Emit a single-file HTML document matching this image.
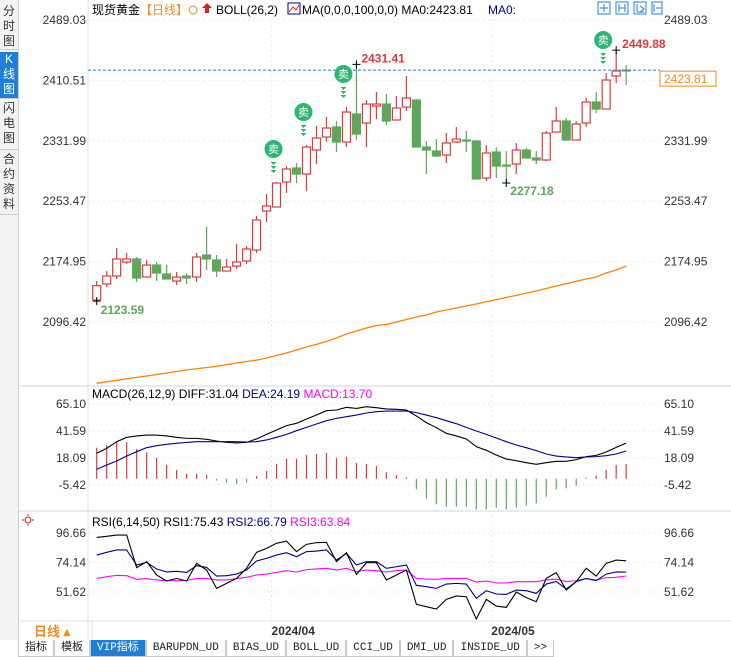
<!DOCTYPE html>
<html><head><meta charset="utf-8"><style>
body{margin:0;width:731px;height:657px;overflow:hidden;background:#fff;font-family:"Liberation Sans","Noto Sans CJK SC",sans-serif;position:relative}
.side{position:absolute;left:0;top:0;width:18px;height:640px;background:#f3f3f3;border-right:1px solid #d0d0d0}
.side div{position:absolute;left:0;width:18px;font-size:12px;line-height:15px;text-align:center;color:#333;border-bottom:1px solid #ccc}
.tabs{position:absolute;left:18px;top:640px;height:17px;display:flex;font-family:"Liberation Mono","Noto Sans CJK SC",monospace;font-size:11px}
.tabs div{border:1px solid #c8c8c8;border-top:none;padding:0 6px;line-height:16px;color:#222;background:#fff}
svg{position:absolute;left:0;top:0}
</style></head><body>
<div class="side">
 <div style="top:4px;height:45px">分<br>时<br>图</div>
 <div style="top:52px;height:46px;background:#1f7fd6;color:#fff">K<br>线<br>图</div>
 <div style="top:101px;height:48px">闪<br>电<br>图</div>
 <div style="top:152px;height:62px">合<br>约<br>资<br>料</div>
</div>
<div class="tabs">
 <div>指标</div>
 <div>模板</div>
 <div style="background:#1f7fd6;color:#fff">VIP指标</div>
 <div>BARUPDN_UD</div>
 <div>BIAS_UD</div>
 <div>BOLL_UD</div>
 <div>CCI_UD</div>
 <div>DMI_UD</div>
 <div>INSIDE_UD</div>
 <div>&gt;&gt;</div>
</div>
<svg id="c" width="731" height="640"></svg>
<script>
const opens=[2125.0,2145.8,2156.2,2174.4,2178.3,2154.9,2170.5,2158.8,2149.7,2156.2,2154.9,2183.5,2177.0,2162.7,2169.2,2175.7,2190.0,2240.7,2245.9,2278.4,2296.6,2288.8,2320.0,2336.9,2349.9,2330.4,2366.8,2355.1,2377.2,2379.8,2359.0,2375.9,2385.0,2323.9,2318.7,2313.5,2330.4,2333.0,2331.7,2283.6,2317.4,2300.5,2301.8,2320.0,2309.6,2307.0,2343.4,2357.7,2333.0,2355.1,2382.4,2373.3,2416.2,2424.0];
const highs=[2149.7,2162.7,2192.6,2186.1,2180.9,2177.0,2174.4,2170.5,2161.4,2160.1,2186.1,2219.9,2183.5,2178.3,2197.8,2195.2,2234.2,2262.8,2278.4,2299.2,2303.1,2326.5,2351.2,2362.9,2357.7,2375.9,2431.41,2385.0,2395.4,2392.8,2390.2,2416.2,2386.3,2331.7,2334.3,2342.1,2349.9,2344.7,2333.0,2326.5,2323.9,2318.7,2329.1,2322.6,2318.7,2344.7,2376.0,2361.6,2357.7,2387.6,2395.4,2420.1,2449.88,2430.5];
const lows=[2123.59,2141.9,2152.3,2171.8,2148.4,2153.6,2149.7,2152.3,2144.5,2145.8,2148.4,2164.0,2154.9,2162.7,2165.3,2171.8,2186.1,2226.4,2245.9,2264.1,2277.1,2266.7,2301.8,2330.4,2317.4,2323.9,2333.0,2323.9,2360.3,2352.5,2359.0,2370.7,2323.9,2288.8,2310.9,2303.1,2329.1,2317.4,2282.3,2279.7,2283.6,2277.18,2288.8,2309.6,2301.8,2305.7,2343.4,2331.7,2333.0,2350.0,2368.1,2373.3,2407.1,2404.5];
const closes=[2143.6,2156.2,2178.3,2178.3,2153.6,2170.5,2160.1,2152.3,2154.9,2153.6,2180.9,2178.3,2162.7,2167.9,2174.4,2191.3,2229.0,2247.2,2277.1,2295.3,2288.8,2323.9,2335.6,2348.6,2330.4,2369.4,2340.8,2379.8,2379.8,2357.7,2374.6,2387.6,2323.9,2320.0,2312.2,2329.1,2334.3,2331.7,2282.3,2316.1,2299.2,2299.2,2320.0,2309.6,2307.0,2342.1,2357.7,2333.0,2353.8,2382.4,2373.3,2411.0,2422.7,2423.81];
const ma100=[2016.7,2018.7,2020.6,2022.6,2024.4,2026.2,2028.2,2030.1,2032.1,2034.0,2035.6,2037.3,2038.8,2041.0,2043.1,2045.1,2046.8,2049.6,2052.9,2056.1,2060.0,2063.9,2067.4,2071.1,2075.6,2080.8,2084.7,2088.6,2091.9,2093.2,2096.4,2099.7,2102.9,2105.5,2109.4,2112.0,2114.6,2117.2,2119.8,2122.8,2125.5,2128.3,2131.0,2133.9,2136.7,2140.0,2143.2,2146.2,2149.3,2152.3,2154.9,2160.1,2164.0,2169.2];
const macdHist=[27.1,29.4,31.8,32.0,25.9,23.1,18.4,12.0,7.7,4.2,4.2,3.3,-1.5,-3.4,-4.5,-3.4,2.4,6.8,12.9,17.5,17.5,20.7,21.6,22.5,18.4,19.2,13.8,12.9,11.1,5.7,3.3,1.3,-9.1,-17.0,-22.2,-24.3,-24.3,-24.3,-26.6,-26.6,-25.1,-26.6,-25.1,-23.4,-21.4,-15.6,-9.1,-8.3,-6.0,1.0,2.7,7.7,12.0,12.9];
const diff=[22.2,26.5,32.3,36.1,37.3,38.1,38.1,37.3,36.1,35.2,35.2,34.4,32.9,31.7,31.2,31.7,34.7,38.7,42.5,46.3,48.3,52.1,55.5,59.3,59.9,62.2,61.3,62.8,61.9,60.8,60.5,59.9,54.7,48.9,44.5,39.6,37.3,34.7,28.0,24.8,20.7,17.2,15.8,14.0,12.6,14.0,15.2,15.2,16.7,19.3,20.4,23.3,27.4,31.04];
const dea=[8.2,12.0,15.5,19.8,23.6,27.1,28.8,30.0,30.9,31.7,32.3,32.3,32.3,32.3,32.3,32.0,32.3,33.8,36.1,38.7,41.9,44.8,47.7,50.6,52.6,54.1,55.5,57.3,58.4,59.0,59.0,59.0,57.6,55.5,53.2,50.6,48.0,44.8,41.6,38.7,35.5,32.3,29.4,27.1,24.5,21.6,19.8,19.0,18.4,19.0,19.3,20.1,21.6,24.19];
const rsi1=[93.3,94.1,95.1,95.1,70.2,74.8,64.6,60.0,62.0,60.0,73.5,68.4,54.4,58.2,62.0,69.7,81.9,84.9,88.8,90.5,82.4,88.0,89.3,89.5,74.8,81.6,65.1,74.0,74.0,60.8,64.6,68.4,42.2,40.4,38.6,46.0,48.6,48.0,31.0,46.0,40.9,39.9,51.6,47.3,44.2,62.0,66.4,53.1,59.5,69.7,63.8,73.5,76.0,75.43];
const rsi2=[79.8,81.9,83.7,83.7,72.2,74.3,69.2,66.9,67.4,66.6,71.7,70.4,63.8,64.1,65.3,68.4,75.3,77.3,79.8,81.6,78.6,82.4,82.9,83.7,76.0,81.1,72.2,74.8,74.8,69.7,70.9,72.2,56.7,55.7,54.4,57.7,58.2,57.7,46.8,52.6,50.1,49.8,53.1,52.6,50.6,57.7,59.7,53.9,59.5,62.0,60.3,65.3,66.9,66.79];
const rsi3=[62.0,63.3,64.3,64.1,61.3,61.8,60.8,60.3,60.3,60.5,62.0,62.0,60.8,60.8,61.8,62.8,64.6,65.3,66.6,67.9,66.9,68.7,69.2,69.7,68.4,69.7,67.1,68.4,67.9,66.9,67.9,68.4,62.0,61.5,61.3,62.0,62.0,62.0,59.2,60.0,58.5,58.5,59.5,59.5,59.5,60.8,61.5,59.5,60.3,61.8,60.8,62.5,62.8,63.84];
const priceTicks=["2489.03","2410.51","2331.99","2253.47","2174.95","2096.42"];
const macdTicks=["65.10","41.59","18.09","-5.42"];
const rsiTicks=["96.66","74.14","51.62"];
const dateLabels=["2024/04","2024/05"];
const dateIdx=[17.5,39.5];
const sellIdx=[18,21,25,51];

const NS="http://www.w3.org/2000/svg";
const svg=document.getElementById('c');
function el(t,a,txt){const e=document.createElementNS(NS,t);for(const k in a)e.setAttribute(k,a[k]);if(txt!==undefined)e.textContent=txt;svg.appendChild(e);return e;}
const X=i=>96.7+i*9.99;
const yP=p=>20+(2489.03-p)*302/392.61;
const yM=v=>478.8-v*81/70.52;
const yR=v=>533+(96.66-v)*59/45.04;
const L=88,R=660;
let e;
e=el('line',{x1:L,y1:0,x2:L,y2:640,stroke:'#dde3ea'});
e=el('line',{x1:18,y1:386,x2:731,y2:386,stroke:'#cfd6de'});
e=el('line',{x1:18,y1:511,x2:731,y2:511,stroke:'#cfd6de'});
e=el('line',{x1:18,y1:621,x2:731,y2:621,stroke:'#e3e3e3'});
e=el('line',{x1:92,y1:621,x2:92,y2:640,stroke:'#ddd'});
function ticks(arr,fy,nm){arr.forEach(t=>{const y=fy(parseFloat(t));
 let g=el('line',{x1:L,y1:y,x2:R,y2:y,stroke:'#e6e9ee','stroke-dasharray':'2,3'});
 let a=el('text',{x:86,y:y+4,'font-size':12,'text-anchor':'end',fill:'#333'},t);
 let b=el('text',{x:664,y:y+4,'font-size':12,fill:'#333'},t);});}
ticks(priceTicks,yP,'price');ticks(macdTicks,yM,'macd');ticks(rsiTicks,yR,'rsi');
dateLabels.forEach((d,k)=>{const x=X(dateIdx[k]);
 let g=el('line',{x1:x,y1:20,x2:x,y2:640,stroke:'#e6e9ee','stroke-dasharray':'2,3'});
 let t=el('text',{x:x,y:635,'font-size':12,'font-weight':'bold',fill:'#333'},d);});
e=el('polyline',{points:ma100.map((v,i)=>X(i)+','+yP(v)).join(' '),fill:'none',stroke:'#ff8000','stroke-width':1.3});

const RED='#e0393e',GRN='#5ea65a';
opens.forEach((o,i)=>{const c=closes[i],x=X(i),up=c>=o,col=up?RED:GRN;
 const top=yP(Math.max(o,c)),bot=yP(Math.min(o,c));
 let w=el('line',{x1:x,y1:yP(highs[i]),x2:x,y2:yP(lows[i]),stroke:col,'stroke-width':1.2});
 
 let b=el('rect',{x:x-4,y:top,width:8,height:Math.max(1,bot-top),fill:up?'#fff':GRN,stroke:col,'stroke-width':1.2});
 });
const last=closes[closes.length-1];
e=el('line',{x1:L,y1:yP(last),x2:R,y2:yP(last),stroke:'#1e88e5','stroke-dasharray':'3,2'});
e=el('rect',{x:660,y:yP(last)+1,width:56,height:15,fill:'#fff',stroke:'#f08a24'});
e=el('text',{x:664,y:yP(last)+13,'font-size':12,fill:'#f08a24'},last.toFixed(2));
function mark(i,v,txt,col,dx,dy){const x=X(i),y=yP(v);
 let m=el('path',{d:`M${x-4},${y}H${x+4}M${x},${y-4}V${y+4}`,stroke:'#000'});
 let t=el('text',{x:x+dx,y:y+dy,'font-size':12,'font-weight':'bold',fill:col},txt);}
mark(26,highs[26],'2431.41',RED,5,-2);mark(52,highs[52],'2449.88',RED,6,-2);
mark(41,lows[41],'2277.18',GRN,4,12);mark(0,lows[0],'2123.59',GRN,4,13);
sellIdx.forEach(i=>{const x=X(i)-3,y=yP(highs[i])-33;
 let c=el('circle',{cx:x,cy:y,r:9,fill:'#2bb673'});
 let t=el('text',{x:x,y:y+4,'font-size':11,'text-anchor':'middle',fill:'#fff'},'卖');
 for(let k=0;k<3;k++){let p=el('path',{d:`M${x-3},${y+13+k*4}L${x+3},${y+13+k*4}L${x},${y+16+k*4}Z`,fill:'#2bb673'});}});
macdHist.forEach((v,i)=>{let b=el('line',{x1:X(i),y1:yM(0),x2:X(i),y2:yM(v),stroke:v>=0?RED:GRN,'stroke-width':1.2});
 });
e=el('polyline',{points:diff.map((v,i)=>X(i)+','+yM(v)).join(' '),fill:'none',stroke:'#000','stroke-width':1.1});
e=el('polyline',{points:dea.map((v,i)=>X(i)+','+yM(v)).join(' '),fill:'none',stroke:'#00008b','stroke-width':1.1});
[[rsi3,'#ff00ff','rsi3-line'],[rsi2,'#00008b','rsi2-line'],[rsi1,'#000','rsi1-line']].forEach(([a,c,n])=>{
 let p=el('polyline',{points:a.map((v,i)=>X(i)+','+yR(v)).join(' '),fill:'none',stroke:c,'stroke-width':1.1});
 });
</script>
<svg width="731" height="640" style="pointer-events:none">
 <g font-size="12" font-family="Liberation Sans,Noto Sans CJK SC,sans-serif">
  <text x="92" y="14" fill="#000">现货黄金</text>
  <text x="140" y="14" fill="#f08a24">【日线】</text>
  <circle cx="193" cy="10" r="4" fill="none" stroke="#f08a24"/>
  <path d="M207,3 L212,8 H209 V13 H205 V8 H202Z" fill="#e02020"/>
  <text x="216" y="14" fill="#000">BOLL(26,2)</text>
  <rect x="288" y="3" width="12" height="11" fill="#fff" stroke="#00008b"/>
  <path d="M289,12 L293,7 L296,10 L299,5" stroke="#e02020" fill="none"/>
  <text x="302" y="14" fill="#000">MA(0,0,0,100,0,0) MA0:2423.81</text>
  <text x="488" y="14" fill="#00008b">MA0:</text>
  <g stroke="#1f7fd6" fill="none">
   <rect x="598" y="2" width="12" height="12"/><rect x="616" y="2" width="12" height="12"/><rect x="634" y="2" width="12" height="12"/><rect x="652" y="2" width="10" height="12"/>
   <path d="M604,4V12M600,8H608M619,4V12M625,4V12M619,8H625M637,4V12M637,12H644M640,6L644,9L640,12M654,4V12M656,8H661"/>
  </g>
  <text x="92" y="398"><tspan fill="#000">MACD(26,12,9) DIFF:31.04 </tspan><tspan fill="#00008b">DEA:24.19 </tspan><tspan fill="#ff00ff">MACD:13.70</tspan></text>
  <text x="92" y="526"><tspan fill="#000">RSI(6,14,50) RSI1:75.43 </tspan><tspan fill="#00008b">RSI2:66.79 </tspan><tspan fill="#ff00ff">RSI3:63.84</tspan></text>
  <g stroke="#d02020"><circle cx="28" cy="520" r="3" fill="none"/><path d="M22,520H24M32,520H34M28,514V516M28,524V526"/></g>
  <text x="34" y="636" font-size="13" font-weight="bold" fill="#f08a24">日线 ▴</text>
 </g>
</svg>
</body></html>
